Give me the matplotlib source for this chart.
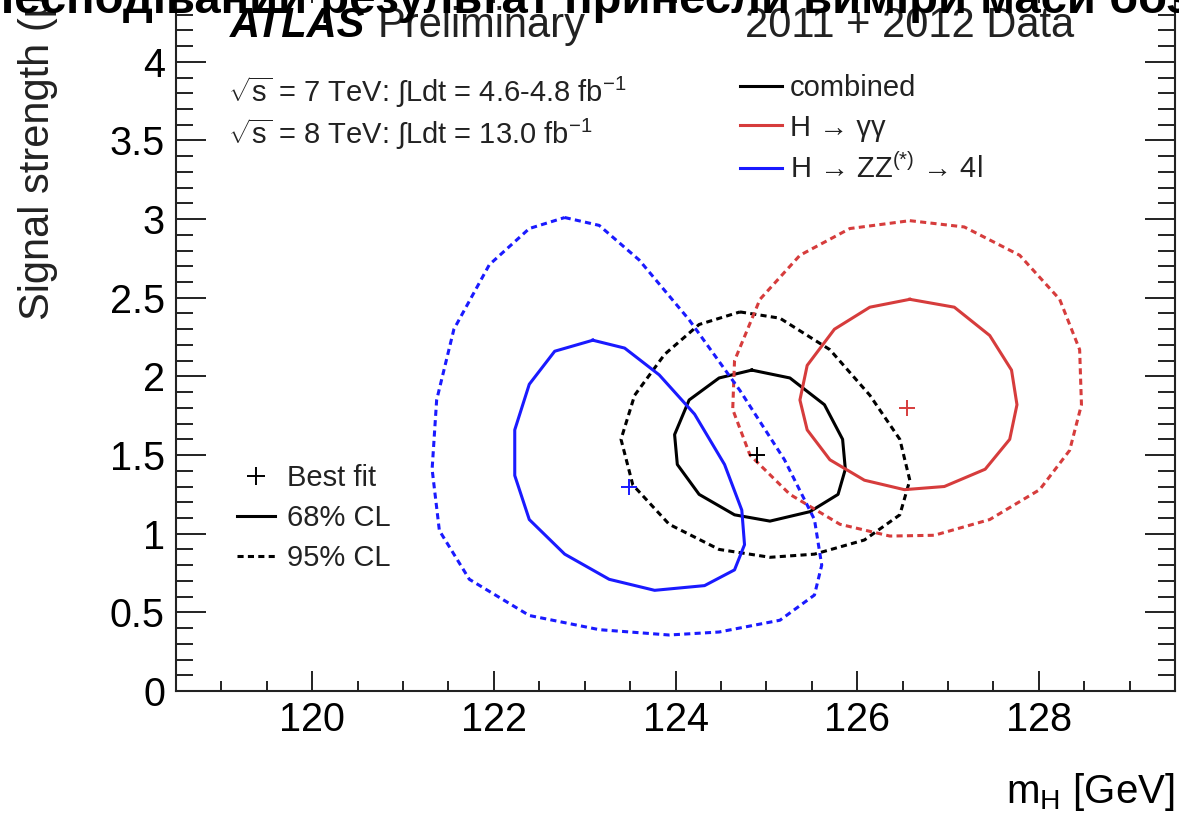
import numpy as np
import matplotlib
matplotlib.use("Agg")
import matplotlib.pyplot as plt
from matplotlib.lines import Line2D
from matplotlib.ticker import MultipleLocator, FormatStrFormatter

plt.rcParams["font.family"] = ["Liberation Sans", "DejaVu Sans"]
plt.rcParams["mathtext.fontset"] = "custom"
plt.rcParams["mathtext.rm"] = "Liberation Sans"
plt.rcParams["mathtext.it"] = "Liberation Sans:italic"
plt.rcParams["mathtext.bf"] = "Liberation Sans:bold"

# Contours: (m_H [GeV], signal strength)
zz68_m = [123.09, 123.44, 123.82, 124.21, 124.54, 124.73, 124.76, 124.65, 124.32,
          123.77, 123.27, 122.78, 122.39, 122.23, 122.23, 122.39, 122.67]
zz68_mu = [2.23, 2.18, 2.01, 1.76, 1.44, 1.15, 0.93, 0.77, 0.67,
           0.64, 0.71, 0.87, 1.09, 1.37, 1.66, 1.95, 2.16]

zz95_m = [122.78, 123.16, 123.60, 124.15, 124.71, 125.20, 125.53, 125.61, 125.53, 125.15,
          124.48, 123.93, 123.16, 122.39, 121.73, 121.40, 121.32, 121.37, 121.56, 121.95, 122.39]
zz95_mu = [3.01, 2.96, 2.74, 2.36, 1.91, 1.47, 1.09, 0.80, 0.61, 0.45,
           0.375, 0.356, 0.39, 0.48, 0.71, 1.02, 1.41, 1.85, 2.30, 2.71, 2.94]

comb68_m = [124.84, 125.26, 125.64, 125.84, 125.87, 125.79, 125.48, 125.04, 124.65,
            124.26, 124.02, 123.99, 124.15, 124.48]
comb68_mu = [2.04, 1.99, 1.82, 1.60, 1.41, 1.25, 1.14, 1.08, 1.12,
             1.25, 1.44, 1.63, 1.85, 1.99]

comb95_m = [124.71, 125.15, 125.70, 126.14, 126.47, 126.58, 126.47, 126.08, 125.53,
            125.04, 124.48, 123.93, 123.53, 123.40, 123.55, 123.88, 124.26]
comb95_mu = [2.41, 2.37, 2.17, 1.88, 1.60, 1.34, 1.12, 0.96, 0.87,
             0.85, 0.90, 1.06, 1.31, 1.60, 1.88, 2.14, 2.33]

gg68_m = [126.58, 127.07, 127.46, 127.70, 127.76, 127.68, 127.41, 126.96, 126.52,
          126.08, 125.70, 125.45, 125.37, 125.45, 125.75, 126.14]
gg68_mu = [2.49, 2.44, 2.26, 2.04, 1.82, 1.60, 1.41, 1.30, 1.28,
           1.34, 1.47, 1.66, 1.85, 2.07, 2.30, 2.44]

gg95_m = [126.58, 127.18, 127.79, 128.23, 128.45, 128.47, 128.34, 128.01, 127.46, 126.85,
          126.36, 125.81, 125.26, 124.82, 124.63, 124.65, 124.93, 125.37, 125.92]
gg95_mu = [2.99, 2.95, 2.77, 2.49, 2.17, 1.82, 1.53, 1.28, 1.09, 0.99,
           0.985, 1.06, 1.25, 1.50, 1.79, 2.10, 2.49, 2.77, 2.94]

best_m = [124.90, 126.55, 123.49]
best_mu = [1.50, 1.80, 1.30]

channels = ["combined", "H \u2192 \u03b3\u03b3", "H \u2192 ZZ$^{(*)}$ \u2192 4l"]
colors = ["black", "#d63c3c", "#1a1aff"]
cl_labels = ["Best fit", "68% CL", "95% CL"]

contours68 = [(comb68_m, comb68_mu), (gg68_m, gg68_mu), (zz68_m, zz68_mu)]
contours95 = [(comb95_m, comb95_mu), (gg95_m, gg95_mu), (zz95_m, zz95_mu)]

W, H = 1179, 815
fig = plt.figure(figsize=(W / 100, H / 100), dpi=100)
fig.patch.set_facecolor("white")

# axes extend a bit beyond the top edge (cropped screenshot)
ax = fig.add_axes([176 / W, 124 / H, 999 / W, 4.5 * 157.3 / H])
ax.set_xlim(118.5, 129.5)
ax.set_ylim(0, 4.5)

dash = (0, (2, 1.4))
handles = []
for (m, mu), (m2, mu2), c in zip(contours68, contours95, colors):
    h, = ax.plot(np.append(m, m[0]), np.append(mu, mu[0]), color=c, lw=2.2)
    ax.plot(np.append(m2, m2[0]), np.append(mu2, mu2[0]), color=c, lw=2.2, linestyle=dash)
    handles.append(h)

for m, mu, c in zip(best_m, best_mu, colors):
    ax.plot(m, mu, marker="+", color=c, markersize=11, mew=1.4, linestyle="none")

# axis styling, ROOT-like
for s in ax.spines.values():
    s.set_linewidth(1.5)
    s.set_color("#222222")
ax.xaxis.set_major_locator(MultipleLocator(2))
ax.xaxis.set_minor_locator(MultipleLocator(0.5))
ax.yaxis.set_major_locator(MultipleLocator(0.5))
ax.yaxis.set_minor_locator(MultipleLocator(0.1))
ax.yaxis.set_major_formatter(FormatStrFormatter("%g"))
ax.tick_params(which="both", direction="in", top=True, right=True, width=1.4,
               colors="#222222", labelcolor="black", labelsize=28.5)
ax.tick_params(axis="x", which="major", length=14.5, pad=7)
ax.tick_params(axis="x", which="minor", length=7.5)
ax.tick_params(axis="y", which="major", length=21.5, pad=8)
ax.tick_params(axis="y", which="minor", length=12)

# legends
leg1 = ax.legend(handles, channels, loc="upper left", bbox_to_anchor=(740 / W, 1 - 74 / H),
                 bbox_transform=fig.transFigure, frameon=False, fontsize=21,
                 handlelength=1.44, handletextpad=0.27, labelspacing=0.4,
                 borderpad=0, borderaxespad=0)
for t in leg1.get_texts():
    t.set_color("#222222")
ax.add_artist(leg1)

cl_handles = [Line2D([], [], color="black", marker="+", markersize=13, mew=1.4, linestyle="none"),
              Line2D([], [], color="black", lw=2.2),
              Line2D([], [], color="black", lw=2.2, linestyle=dash)]
leg2 = ax.legend(cl_handles, cl_labels, loc="upper left", bbox_to_anchor=(237 / W, 1 - 464 / H),
                 bbox_transform=fig.transFigure, frameon=False, fontsize=21,
                 handlelength=1.3, handletextpad=0.41, labelspacing=0.42,
                 borderpad=0, borderaxespad=0)
for t in leg2.get_texts():
    t.set_color("#222222")

# labels and annotations
fig.text(230 / W, 1 - 37 / H, "ATLAS", fontsize=30, fontweight="bold", style="italic", va="baseline")
fig.text(378 / W, 1 - 37 / H, "Preliminary", fontsize=30, va="baseline", color="#222222")
fig.text(745 / W, 1 - 37 / H, "2011 + 2012 Data", fontsize=30, va="baseline", color="#222222")
fig.text(228 / W, 1 - 102 / H, r"$\sqrt{\mathrm{s}}$ = 7 TeV: $\int$Ldt = 4.6-4.8 fb$^{-1}$",
         fontsize=21, va="baseline", color="#222222")
fig.text(228 / W, 1 - 144 / H, r"$\sqrt{\mathrm{s}}$ = 8 TeV: $\int$Ldt = 13.0 fb$^{-1}$",
         fontsize=21, va="baseline", color="#222222")

fig.text(1175 / W, 1 - 803 / H, r"m$_{\mathrm{H}}$ [GeV]", fontsize=29, ha="right", va="baseline")
fig.text(38 / W, 1 - 320 / H, "Signal strength (\u03bc)", fontsize=30, rotation=90,
         ha="center", va="bottom", color="#222222")

# overlaid headline, mostly cropped away at the top
fig.text(-20 / W, 1 - 13 / H, "Несподіваний результат принесли виміри маси бозона Хіггса",
         fontsize=34, fontweight="bold", va="baseline", color="black")

fig.savefig("out.png", dpi=100)
